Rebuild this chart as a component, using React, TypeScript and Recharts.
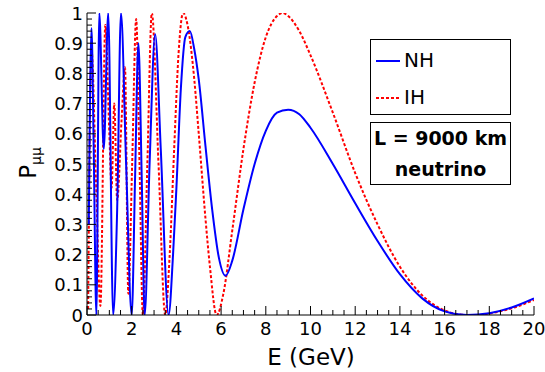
import { LineChart, Line, XAxis, YAxis, Legend } from 'recharts'

// energy (GeV) and survival probability
const NH_E = [0.08, 0.2, 0.3, 0.42, 0.55, 0.75, 0.95, 1.17, 1.35, 1.52, 1.75, 2.0, 2.15, 2.3, 2.45, 2.58, 2.8, 3.05, 3.3, 3.65, 3.85, 4.0, 4.2, 4.4, 4.6, 4.8, 5.0, 5.3, 5.6, 5.9, 6.2, 6.5, 7.0, 7.5, 8.0, 8.5, 9.0, 9.5, 10, 11, 12, 13, 14, 15, 16, 17, 18, 19, 20]
const NH_P = [0.3, 0.95, 0.55, 0.0, 1.0, 0.55, 1.0, 0.0, 0.35, 1.0, 0.5, 0.0, 0.45, 0.9, 0.45, 0.0, 0.5, 0.93, 0.55, 0.0, 0.2, 0.42, 0.75, 0.92, 0.94, 0.88, 0.78, 0.56, 0.35, 0.19, 0.13, 0.18, 0.35, 0.5, 0.61, 0.67, 0.68, 0.665, 0.62, 0.5, 0.37, 0.245, 0.135, 0.055, 0.012, 0.0, 0.006, 0.025, 0.055]

const IH_E = [0.05, 0.2, 0.4, 0.6, 0.82, 1.0, 1.1, 1.22, 1.35, 1.55, 1.7, 1.85, 2.02, 2.2, 2.35, 2.5, 2.7, 2.9, 3.2, 3.5, 3.7, 3.9, 4.1, 4.3, 4.5, 4.8, 5.0, 5.3, 5.5, 5.8, 6.1, 6.5, 7.0, 7.5, 8.0, 8.5, 8.75, 9.0, 9.5, 10, 11, 12, 13, 14, 15, 16, 17, 17.5, 18, 19, 20]
const IH_P = [0.02, 0.88, 0.45, 0.03, 0.96, 0.6, 0.42, 0.7, 0.38, 0.65, 0.82, 0.07, 0.5, 0.98, 0.5, 0.0, 0.5, 1.0, 0.5, 0.0, 0.2, 0.55, 0.87, 1.0, 0.96, 0.78, 0.6, 0.32, 0.16, 0.0, 0.07, 0.28, 0.55, 0.77, 0.92, 0.99, 1.0, 0.99, 0.94, 0.86, 0.67, 0.47, 0.3, 0.16, 0.065, 0.015, 0.0, 0.0, 0.005, 0.022, 0.05]

const X_MAJOR = [0, 2, 4, 6, 8, 10, 12, 14, 16, 18, 20]

const SERIES = { NH: 'NH', IH: 'IH' }
const BOX_TEXT = ['L = 9000 km', 'neutrino']

const nhData = NH_E.map((e, i) => ({ E: e, P: NH_P[i] }))
const ihData = IH_E.map((e, i) => ({ E: e, P: IH_P[i] }))

// minor ticks: 0.5 GeV on x, 0.02 on y
const X_TICKS = Array.from({ length: 41 }, (_, i) => i / 2)
const Y_TICKS = Array.from({ length: 51 }, (_, i) => Math.round(i * 2) / 100)

const FONT = '"DejaVu Sans", Verdana, sans-serif'
const BLUE = '#0000ff'
const RED = '#ff0000'
const DASH = '3 2'

const isMajorX = (v: number) => X_MAJOR.includes(v)
const isMajorY = (v: number) => Math.round(v * 100) % 10 === 0
const fmtY = (v: number) => (v === 0 ? '0' : v === 1 ? '1' : v.toFixed(1))

const BottomTick = ({ x, y, payload }: any) => {
	const major = isMajorX(payload.value)
	return (
		<g>
			<line x1={x} x2={x} y1={y} y2={y - (major ? 9 : 5)} stroke="#000" />
			{major && (
				<text x={x} y={y + 20} textAnchor="middle" fontSize={18} fontFamily={FONT} fill="#000">
					{payload.value}
				</text>
			)}
		</g>
	)
}

const TopTick = ({ x, y, payload }: any) => {
	const major = isMajorX(payload.value)
	return <line x1={x} x2={x} y1={y} y2={y + (major ? 9 : 5)} stroke="#000" />
}

const LeftTick = ({ x, y, payload }: any) => {
	const major = isMajorY(payload.value)
	return (
		<g>
			<line x1={x} x2={x + (major ? 9 : 5)} y1={y} y2={y} stroke="#000" />
			{major && (
				<text x={x - 4} y={y + 6.5} textAnchor="end" fontSize={18} fontFamily={FONT} fill="#000">
					{fmtY(payload.value)}
				</text>
			)}
		</g>
	)
}

const RightTick = ({ x, y, payload }: any) => {
	const major = isMajorY(payload.value)
	return <line x1={x} x2={x - (major ? 11 : 6)} y1={y} y2={y} stroke="#000" />
}

const YTitle = () => (
	<text transform="translate(36,163) rotate(-90)" textAnchor="middle" fontSize={23} fontFamily={FONT} fill="#000">
		P
		<tspan fontSize={14} dy={5}>
			μμ
		</tspan>
	</text>
)

const XTitle = () => (
	<text x={311} y={365} textAnchor="middle" fontSize={23} fontFamily={FONT} fill="#000">
		E (GeV)
	</text>
)

const LegendBox = () => (
	<div style={{ fontFamily: FONT, color: '#000' }}>
		<div style={{ width: 139, height: 74, border: '1px solid #000', background: '#fff', position: 'relative' }}>
			<svg width={30} height={74} style={{ position: 'absolute', left: 4, top: 0 }}>
				<line x1={1} x2={25} y1={21} y2={21} stroke={BLUE} strokeWidth={2} />
				<line x1={1} x2={25} y1={58} y2={58} stroke={RED} strokeWidth={2} strokeDasharray={DASH} />
			</svg>
			<div style={{ position: 'absolute', left: 33, top: 8, fontSize: 20, lineHeight: '24px' }}>{SERIES.NH}</div>
			<div style={{ position: 'absolute', left: 33, top: 45, fontSize: 20, lineHeight: '24px' }}>{SERIES.IH}</div>
		</div>
		<div
			style={{
				width: 139,
				height: 61,
				marginTop: 7,
				border: '1px solid #000',
				background: '#fff',
				fontWeight: 'bold',
				fontSize: 19,
				textAlign: 'center',
				lineHeight: '31px',
			}}
		>
			<div>{BOX_TEXT[0]}</div>
			<div>{BOX_TEXT[1]}</div>
		</div>
	</div>
)

export default function App() {
	return (
		<div style={{ position: 'absolute', left: 0, top: 0, width: 545, height: 372, background: '#fff' }}>
			<LineChart width={545} height={372} data={nhData} margin={{ top: 13, right: 11, bottom: 0, left: 0 }}>
				<XAxis
					xAxisId="b"
					dataKey="E"
					type="number"
					domain={[0, 20]}
					ticks={X_TICKS}
					interval={0}
					height={57}
					tickSize={0}
					tickMargin={0}
					tickLine={false}
					tick={<BottomTick />}
					axisLine={{ stroke: '#000' }}
					allowDataOverflow
					label={<XTitle />}
				/>
				<XAxis
					xAxisId="t"
					orientation="top"
					dataKey="E"
					type="number"
					domain={[0, 20]}
					ticks={X_TICKS}
					interval={0}
					height={0}
					tickSize={0}
					tickMargin={0}
					tickLine={false}
					tick={<TopTick />}
					axisLine={{ stroke: '#000' }}
					allowDataOverflow
				/>
				<YAxis
					yAxisId="l"
					type="number"
					domain={[0, 1]}
					ticks={Y_TICKS}
					interval={0}
					width={87}
					tickSize={0}
					tickMargin={0}
					tickLine={false}
					tick={<LeftTick />}
					axisLine={{ stroke: '#000' }}
					allowDataOverflow
					label={<YTitle />}
				/>
				<YAxis
					yAxisId="r"
					orientation="right"
					type="number"
					domain={[0, 1]}
					ticks={Y_TICKS}
					interval={0}
					width={0}
					tickSize={0}
					tickMargin={0}
					tickLine={false}
					tick={<RightTick />}
					axisLine={{ stroke: '#000' }}
					allowDataOverflow
				/>
				<Line
					xAxisId="b"
					yAxisId="l"
					data={ihData}
					dataKey="P"
					name={SERIES.IH}
					type="monotone"
					stroke={RED}
					strokeWidth={2}
					strokeDasharray={DASH}
					dot={false}
					isAnimationActive={false}
				/>
				<Line
					xAxisId="b"
					yAxisId="l"
					data={nhData}
					dataKey="P"
					name={SERIES.NH}
					type="monotone"
					stroke={BLUE}
					strokeWidth={2}
					dot={false}
					isAnimationActive={false}
				/>
				<Legend
					layout="horizontal"
					verticalAlign="middle"
					align="center"
					content={<LegendBox />}
					wrapperStyle={{ left: 370, top: 39, width: 141 }}
				/>
			</LineChart>
		</div>
	)
}
